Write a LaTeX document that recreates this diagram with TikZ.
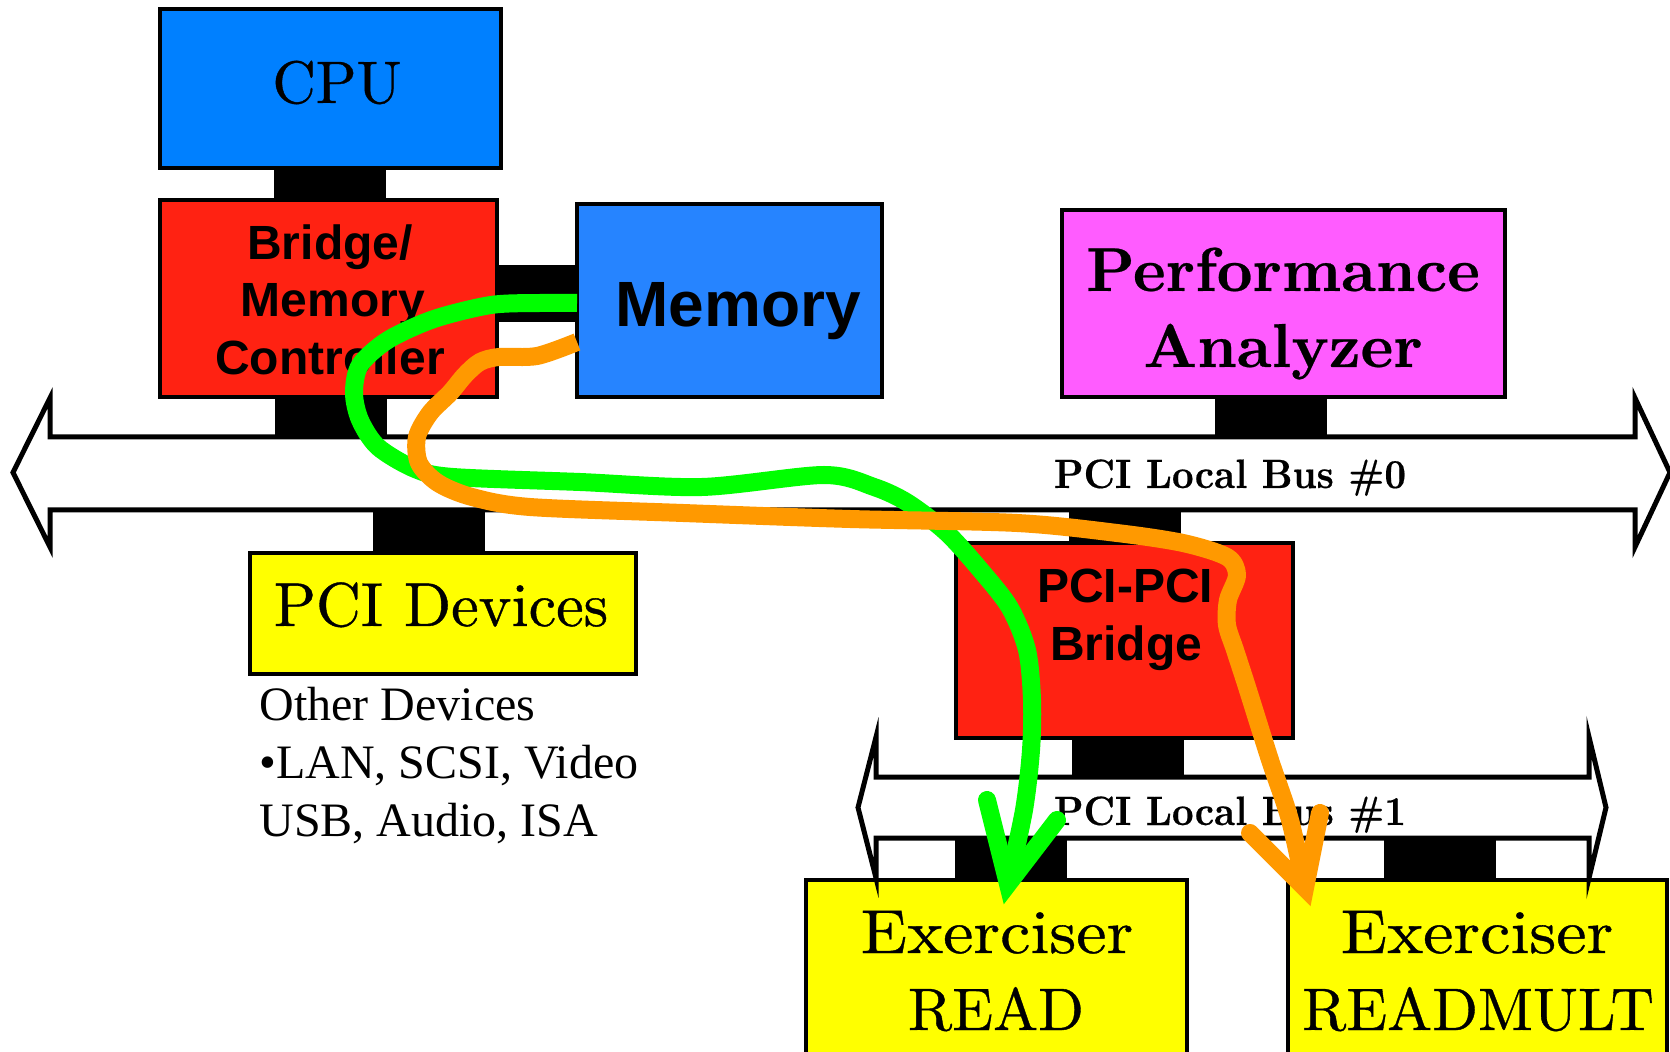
\documentclass[tikz,border=0pt]{standalone}
\usepackage{fontspec}
\newfontfamily\arialface{Liberation Sans}
\newfontfamily\timesface{Liberation Serif}
\newfontfamily\schoolface{lmroman10-regular.otf}[FakeBold=0.6]
\newfontfamily\schoolwide{lmroman10-regular.otf}[FakeBold=0.6,FakeStretch=1.10]
\newfontfamily\schoolbold{lmroman10-bold.otf}[FakeBold=0.4]
\newfontfamily\schoolboldnarrow{lmroman10-bold.otf}[FakeBold=0.4,FakeStretch=0.92]
\definecolor{cpublue}{RGB}{0,128,255}
\definecolor{memblue}{RGB}{38,132,255}
\definecolor{bridgered}{RGB}{255,34,18}
\definecolor{analyzer}{RGB}{255,92,255}
\definecolor{devyellow}{RGB}{255,255,0}
\definecolor{readgreen}{RGB}{0,255,0}
\definecolor{multorange}{RGB}{255,153,0}
\begin{document}
\begin{tikzpicture}[x=0.5pt, y=-0.5pt,
  box/.style={draw=black, line width=2pt, inner sep=0pt, outer sep=0pt},
  bar/.style={draw=black, line width=56pt, line cap=butt},
  hbar/.style={draw=black, line width=28.5pt, line cap=butt},
  bus/.style={draw=black, fill=white, line width=2.5pt, line join=miter},
  serifbig/.style={inner sep=0pt, font=\schoolface\fontsize{30pt}{36pt}\selectfont},
  serifdev/.style={inner sep=0pt, font=\schoolface\fontsize{31pt}{37pt}\selectfont},
  serifwide/.style={inner sep=0pt, font=\schoolwide\fontsize{31pt}{37pt}\selectfont},
  serifbold/.style={inner sep=0pt, font=\schoolbold\fontsize{31pt}{37pt}\selectfont},
  buslabel/.style={inner sep=0pt, font=\schoolboldnarrow\fontsize{20.5pt}{24pt}\selectfont},
  sansbig/.style={inner sep=0pt, font=\arialface\bfseries\fontsize{32pt}{38pt}\selectfont},
  sansmid/.style={inner sep=0pt, font=\arialface\bfseries\fontsize{24pt}{28pt}\selectfont},
  note/.style={inner sep=0pt, anchor=base west, font=\timesface\fontsize{24pt}{28pt}\selectfont},
  stroke/.style={line width=9pt, line join=round},
  arm/.style={line width=9pt, line cap=round}]
\useasboundingbox (0,0) rectangle (1670,1052);
\clip (0,0) rectangle (1670,1052);

% boxes
\node[box, fill=cpublue, minimum width=170.5pt, minimum height=79.5pt] (cpu) at (330.5,88.5) {};
\node[box, fill=bridgered, minimum width=168.5pt, minimum height=98.5pt] (bmc) at (328.5,298.5) {};
\node[box, fill=memblue, minimum width=152.5pt, minimum height=96.5pt] (mem) at (729.5,300.5) {};
\node[box, fill=analyzer, minimum width=221.5pt, minimum height=93.5pt] (perf) at (1283.5,303.5) {};
\node[box, fill=devyellow, minimum width=193pt, minimum height=60.5pt] (pcidev) at (443,613.5) {};
\node[box, fill=bridgered, minimum width=168.5pt, minimum height=97.5pt] (ppb) at (1124.5,640.5) {};
\node[box, fill=devyellow, minimum width=190.5pt, minimum height=100pt] (exr) at (996.5,980) {};
\node[box, fill=devyellow, minimum width=189.5pt, minimum height=100pt] (exm) at (1477.5,980) {};

% bus edges
\coordinate (bus0top) at (840,437);
\coordinate (bus0bot) at (840,510);
\coordinate (bus1top) at (1230,777);
\coordinate (bus1bot) at (1230,838);

% connection bars
\draw[bar] ([xshift=-0.5pt]cpu.south) -- ([xshift=-0.5pt]cpu.south |- bmc.north);
\draw[hbar] ([yshift=2.5pt]bmc.east) -- ([yshift=2.5pt]bmc.east -| mem.west);
\draw[bar] ([xshift=1pt]bmc.south) -- ([xshift=1pt]bmc.south |- bus0top);
\draw[bar] ([xshift=-6.25pt]perf.south) -- ([xshift=-6.25pt]perf.south |- bus0top);
\draw[bar] ([xshift=-7pt]pcidev.north) -- ([xshift=-7pt]pcidev.north |- bus0bot);
\draw[bar] (ppb.north) -- (ppb.north |- bus0bot);
\draw[bar] ([xshift=1.75pt]ppb.south) -- ([xshift=1.75pt]ppb.south |- bus1top);
\draw[bar] ([xshift=7.25pt]exr.north) -- ([xshift=7.25pt]exr.north |- bus1bot);
\draw[bar] ([xshift=-18.75pt]exm.north) -- ([xshift=-18.75pt]exm.north |- bus1bot);

% buses
\draw[bus] (13,472.5) -- (50,398) -- (50,437) -- (1635,437) -- (1635,398) -- (1670,472.5)
  -- (1635,547) -- (1635,510) -- (50,510) -- (50,547) -- cycle;
\draw[bus] (858,807.5) -- (876,737) -- (876,777) -- (1589,777) -- (1589,737) -- (1606,807.5)
  -- (1589,878) -- (1589,838) -- (876,838) -- (876,878) -- cycle;

% labels
\node[serifbig, anchor=base] (cputxt) at (337,103) {CPU};
\node[sansmid, anchor=base] (bmctxt1) at (330,260) {Bridge/};
\node[sansmid, anchor=base] (bmctxt2) at (333,317) {Memory};
\node[sansmid, anchor=base] (bmctxt3) at (330,375) {Controller};
\node[sansbig, anchor=base] (memtxt) at (738,327) {Memory};
\node[serifbold, anchor=base] (perftxt1) at (1283,291) {Performance};
\node[serifbold, anchor=base] (perftxt2) at (1283,367) {Analyzer};
\node[buslabel, anchor=base] (bus0txt) at (1230,488) {PCI Local Bus \#0};
\node[serifdev, anchor=base] (devtxt) at (441,626) {PCI Devices};
\node[note] (other1) at (259,720) {Other Devices};
\node[note] (other2) at (259,778) {•LAN, SCSI, Video};
\node[note] (other3) at (259,836) {USB, Audio, ISA};
\node[sansmid, anchor=base] (ppbtxt1) at (1125,603) {PCI-PCI};
\node[sansmid, anchor=base] (ppbtxt2) at (1126,661) {Bridge};
\node[buslabel, anchor=base] (bus1txt) at (1230,825) {PCI Local Bus \#1};
\node[serifwide, anchor=base] (exrtxt1) at (997,953) {Exerciser};
\node[serifbig, anchor=base] (exrtxt2) at (996,1030) {READ};
\node[serifwide, anchor=base] (exmtxt1) at (1477,953) {Exerciser};
\node[serifbig, anchor=base] (exmtxt2) at (1478,1030) {READMULT};

% READ path: memory to the READ exerciser
\coordinate (greentip) at (1008,884);
\draw[stroke, readgreen] plot[smooth, tension=0.5] coordinates {
  ([yshift=-1.25pt]mem.west) (540,303) (491,305) (434,319) (388,340) (360,365)
  (354,393) (360,420) (378,447) (415,469) (453,477) (580,482) (702,487) (824,475)
  (874,487) (908,503) (947,533) (983,573) (1010,608) (1027,650) (1032,700)
  (1031,750) (1024,810) (greentip)};
\draw[arm, readgreen] (987,800) -- (greentip) -- (1057,820);

% READMULT path: memory to the READMULT exerciser
\coordinate (orangetip) at (1305,888);
\draw[stroke, multorange] plot[smooth, tension=0.5] coordinates {
  ([yshift=-20.75pt]mem.west) (537,356) (499,357) (480,362) (465,375) (450,393)
  (430,413) (417,437) (419,463) (438,483) (472,497) (530,507) (683,513) (850,519)
  (1017,523) (1117,533) (1183,543) (1227,557) (1237,575) (1228,600) (1227,625)
  (1235,650) (1247,687) (1270,760) (1290,820) (orangetip)};
\draw[arm, multorange] (1250,833) -- (orangetip) -- (1320,813);
\end{tikzpicture}
\end{document}
